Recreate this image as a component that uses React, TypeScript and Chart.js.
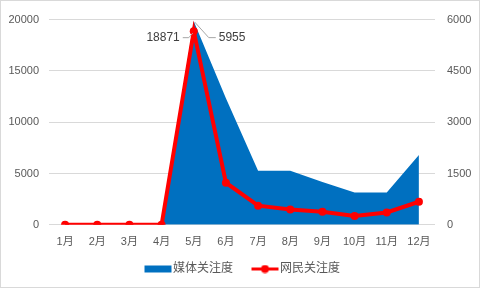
import React, { useEffect, useRef } from "react";
import { Chart, registerables } from "chart.js";

Chart.register(...registerables);

const months = ["1月", "2月", "3月", "4月", "5月", "6月", "7月", "8月", "9月", "10月", "11月", "12月"];
const mediaLabel = "媒体关注度";
const netLabel = "网民关注度";
const mediaValues = [0, 0, 0, 0, 5955, 3700, 1584, 1584, 1251, 947, 947, 2039];
const netValues = [0, 0, 0, 0, 18871, 4100, 1867, 1488, 1261, 853, 1204, 2247];
const leftTicks = [0, 5000, 10000, 15000, 20000];
const rightTicks = [0, 1500, 3000, 4500, 6000];
const peakIndex = 4;

const BLUE = "#0070c0";
const RED = "#ff0000";
const TEXT = "#595959";
const FONT = "'Liberation Sans', 'Noto Sans CJK SC', sans-serif";

function makeIcon(kind: "area" | "line"): HTMLCanvasElement {
  const c = document.createElement("canvas");
  c.width = 40;
  c.height = 9;
  const ctx = c.getContext("2d")!;
  const x0 = 11;
  if (kind === "area") {
    ctx.fillStyle = BLUE;
    ctx.fillRect(x0, 1, 27, 7);
  } else {
    ctx.strokeStyle = RED;
    ctx.lineWidth = 3;
    ctx.beginPath();
    ctx.moveTo(x0, 4.5);
    ctx.lineTo(x0 + 27, 4.5);
    ctx.stroke();
    ctx.fillStyle = RED;
    ctx.beginPath();
    ctx.arc(x0 + 13.5, 4.5, 4, 0, Math.PI * 2);
    ctx.fill();
  }
  return c;
}

const labelPlugin = {
  id: "peakLabels",
  afterDatasetsDraw(chart: any) {
    const ctx = chart.ctx;
    const areaPt = chart.getDatasetMeta(0).data[peakIndex];
    const linePt = chart.getDatasetMeta(1).data[peakIndex];
    ctx.save();
    ctx.strokeStyle = "#a6a6a6";
    ctx.lineWidth = 1;
    ctx.font = `12px ${FONT}`;
    ctx.fillStyle = "#404040";
    ctx.textBaseline = "middle";
    const lx = linePt.x, ly = linePt.y;
    ctx.beginPath();
    ctx.moveTo(lx - 1, ly + 2);
    ctx.lineTo(lx - 5, ly + 6.5);
    ctx.lineTo(lx - 11, ly + 6.5);
    ctx.stroke();
    ctx.textAlign = "right";
    ctx.fillText(String(netValues[peakIndex]), lx - 14, ly + 7);
    const ax = areaPt.x, ay = areaPt.y;
    ctx.beginPath();
    ctx.moveTo(ax + 1, ay + 1);
    ctx.lineTo(ax + 15, ay + 16.5);
    ctx.lineTo(ax + 22, ay + 16.5);
    ctx.stroke();
    ctx.textAlign = "left";
    ctx.fillText(String(mediaValues[peakIndex]), ax + 25, ay + 17);
    ctx.restore();
  },
};

const plain = (v: any) => String(v);

export default function App() {
  const ref = useRef<HTMLCanvasElement>(null);
  useEffect(() => {
    const areaIcon = makeIcon("area");
    const lineIcon = makeIcon("line");
    const chart = new Chart(ref.current!, {
      type: "line",
      data: {
        labels: months,
        datasets: [
          {
            label: mediaLabel,
            data: mediaValues,
            yAxisID: "y1",
            fill: "origin",
            backgroundColor: BLUE,
            borderColor: BLUE,
            borderWidth: 0,
            pointRadius: 0,
            tension: 0,
            order: 2,
          },
          {
            label: netLabel,
            data: netValues,
            yAxisID: "y",
            fill: false,
            borderColor: RED,
            backgroundColor: RED,
            borderWidth: 4,
            pointRadius: 4,
            pointBorderWidth: 0,
            pointBackgroundColor: RED,
            pointBorderColor: RED,
            tension: 0,
            order: 1,
          },
        ],
      },
      options: {
        animation: false,
        responsive: false,
        maintainAspectRatio: false,
        layout: { padding: { top: 13, bottom: 2, left: 0, right: 0 } },
        plugins: {
          tooltip: { enabled: false },
          legend: {
            position: "bottom",
            labels: {
              usePointStyle: true,
              pointStyleWidth: 27,
              padding: 14,
              color: TEXT,
              font: { size: 12, family: FONT },
              generateLabels: () => [
                { text: mediaLabel, pointStyle: areaIcon, fillStyle: BLUE, strokeStyle: BLUE, lineWidth: 0, hidden: false, datasetIndex: 0, fontColor: TEXT },
                { text: netLabel, pointStyle: lineIcon, fillStyle: RED, strokeStyle: RED, lineWidth: 0, hidden: false, datasetIndex: 1, fontColor: TEXT },
              ] as any,
            },
          },
        },
        scales: {
          x: {
            offset: true,
            grid: { display: false, drawTicks: false },
            border: { display: false },
            ticks: { color: TEXT, font: { size: 11, family: FONT }, padding: 11, maxRotation: 0, autoSkip: false },
            afterFit: (s: any) => { s.height = s.height - 11; },
          },
          y: {
            position: "left",
            min: 0,
            max: 20000,
            afterBuildTicks: (s: any) => { s.ticks = leftTicks.map((v) => ({ value: v })); },
            grid: { color: "#d9d9d9", drawTicks: false },
            border: { display: false },
            ticks: { color: TEXT, font: { size: 11, family: FONT }, padding: 10, callback: plain },
            afterFit: (s: any) => { s.width = 48; },
          },
          y1: {
            position: "right",
            min: 0,
            max: 6000,
            afterBuildTicks: (s: any) => { s.ticks = rightTicks.map((v) => ({ value: v })); },
            grid: { display: false, drawTicks: false },
            border: { display: false },
            ticks: { color: TEXT, font: { size: 11, family: FONT }, padding: 12, callback: plain },
            afterFit: (s: any) => { s.width = 44; },
          },
        },
      } as any,
      plugins: [labelPlugin],
    });
    return () => chart.destroy();
  }, []);
  return (
    <div
      style={{
        position: "absolute",
        left: 0,
        top: 0,
        width: 480,
        height: 288,
        boxSizing: "border-box",
        border: "1px solid #d9d9d9",
        background: "#fff",
      }}
    >
      <canvas ref={ref} width={478} height={286} style={{ display: "block", width: 478, height: 286 }} />
    </div>
  );
}
